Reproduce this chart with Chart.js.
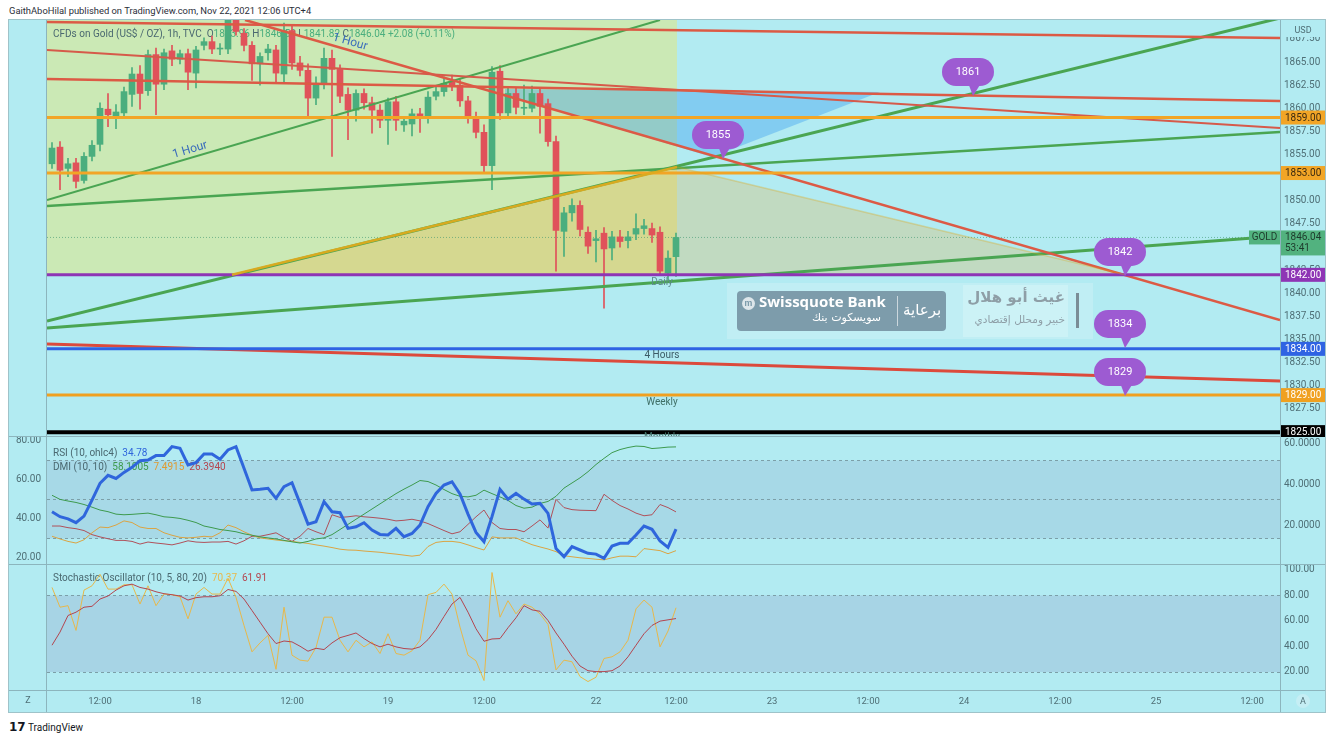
<!DOCTYPE html>
<html><head><meta charset="utf-8">
<script src="https://cdn.jsdelivr.net/npm/chart.js@4.4.1/dist/chart.umd.min.js"></script>
<style>
html,body{margin:0;padding:0;background:#fff;}
body{width:1332px;height:750px;position:relative;overflow:hidden;font-family:Roboto,sans-serif;}
#title{position:absolute;left:9px;top:5px;font-size:9.4px;color:#2a2e39;white-space:nowrap;}
canvas{position:absolute;left:9px;display:block}
#frame{position:absolute;left:8px;top:19px;width:1316px;height:692px;border:1px solid #9fc3c9;pointer-events:none}
#footer{position:absolute;left:9px;top:720px;font-size:10px;color:#131722;white-space:nowrap}
.sp{position:absolute;white-space:nowrap}
</style></head><body>
<div id="title">GaithAboHilal published on TradingView.com, Nov 22, 2021 12:06 UTC+4</div>
<canvas id="cMain" width="1316" height="417" style="top:20px"></canvas>
<canvas id="cRsi" width="1316" height="128" style="top:437px"></canvas>
<canvas id="cSto" width="1316" height="147" style="top:565px"></canvas>
<div id="frame"></div>
<div class="sp" style="left:727px;top:283px;width:366px;height:56px;background:rgba(255,255,255,0.18)"></div>
<div class="sp" style="left:737px;top:291px;width:209px;height:40px;background:#7d9cab;border-radius:4px"></div>
<div class="sp" style="left:742px;top:297px;width:13px;height:13px;border-radius:50%;background:#dde6ea;color:#7d9cab;font:bold 9px Roboto;text-align:center;line-height:13px">m</div>
<div class="sp" style="left:759px;top:291px;font:bold 15px 'Open Sans';color:#fff">Swissquote Bank</div>
<div class="sp" style="left:812px;top:311px;font:11px 'DejaVu Sans';color:#fff;direction:rtl">سويسكوت بنك</div>
<div class="sp" style="left:897px;top:296px;width:1px;height:30px;background:rgba(255,255,255,0.6)"></div>
<div class="sp" style="left:903px;top:301px;font:15px 'DejaVu Sans';color:#fff">برعاية</div>
<div class="sp" style="left:963px;top:285px;width:105px;height:52px;background:rgba(255,255,255,0.2)"></div>
<div class="sp" style="right:267px;top:288px;font:bold 15px 'DejaVu Sans';color:#8e9ea6;direction:rtl">غيث أبو هلال</div>
<div class="sp" style="right:267px;top:313px;font:10.5px 'DejaVu Sans';color:#8e9ea6;direction:rtl">خبير ومحلل إقتصادي</div>
<div class="sp" style="left:1076px;top:293px;width:3px;height:35px;background:#7a8d96"></div>
<div id="footer"><b style="font-size:12px;font-family:'DejaVu Sans'">17</b> TradingView</div>
<script>
// ---------------- DATA ----------------
const firstHour = -6; // first bar, in hours from Nov 17 12:00
const open  = [1854.0,1855.8,1853.5,1854.1,1852.2,1854.8,
  1856.1,1859.9,1859.2,1859.5,1861.5,1863.7,1861.9,1865.8,1862.6,1866.2,
  1865.3,1865.9,1863.8,1866.8,1867.2,1866.4,1866.4,1870.0,1868.1,1866.8,
  1864.8,1866.0,1866.3,1863.7,1868.4,1864.9,1864.1,1861.1,1862.7,1865.4,
  1864.2,1861.5,1859.8,1861.6,1860.6,1859.8,1858.7,1860.7,1858.2,1858.3,
  1859.4,1858.9,1861.3,1861.8,1862.9,1862.5,1860.8,1859.0,1857.4,1853.8,
  1864.0,1859.5,1861.6,1860.0,1860.0,1861.6,1860.5,1856.4,1846.7,1848.7,
  1849.5,1846.6,1845.7,1846.5,1844.9,1846.1,1845.7,1846.4,1847.0,1847.0,
  1846.6,1842.2,1843.96];
const high  = [1856.3,1856.4,1854.6,1854.6,1855.2,1856.5,
  1860.6,1861.6,1860.4,1862.3,1864.4,1864.6,1866.3,1866.5,1866.4,1866.8,
  1866.3,1866.4,1866.7,1867.6,1867.8,1867.0,1871.0,1871.0,1868.6,1867.2,
  1866.0,1866.9,1866.8,1869.2,1869.0,1865.6,1864.8,1863.4,1866.5,1866.3,
  1864.7,1862.2,1862.0,1862.1,1861.2,1860.4,1861.1,1861.3,1858.9,1859.9,
  1860.0,1861.8,1862.3,1863.4,1863.6,1863.1,1861.3,1859.6,1858.2,1864.5,
  1864.6,1862.3,1862.2,1862.5,1862.4,1862.1,1861.0,1857.0,1849.3,1850.2,
  1850.0,1847.2,1846.8,1847.1,1846.7,1846.8,1846.7,1848.6,1848.0,1847.6,
  1847.2,1844.6,1846.5];
const low   = [1853.5,1851.2,1852.6,1851.4,1851.9,1854.3,
  1855.4,1858.0,1857.8,1858.9,1860.2,1859.9,1861.4,1859.3,1862.0,1864.6,
  1864.8,1862.0,1862.2,1866.3,1865.9,1865.8,1865.9,1867.9,1866.2,1863.0,
  1862.5,1865.2,1862.8,1862.8,1864.2,1863.5,1859.0,1860.4,1862.1,1854.8,
  1860.6,1856.6,1858.6,1859.9,1857.3,1857.9,1856.1,1857.6,1857.5,1857.0,
  1857.4,1858.4,1860.9,1861.3,1861.9,1860.2,1858.4,1856.8,1853.0,1851.2,
  1858.8,1858.9,1859.4,1859.3,1859.6,1857.3,1855.9,1842.4,1844.0,1847.8,
  1846.2,1844.3,1843.4,1838.4,1843.6,1845.0,1844.9,1845.8,1846.4,1845.5,
  1842.0,1841.5,1841.82];
const close = [1855.7,1853.3,1854.0,1852.1,1854.8,1856.0,
  1860.0,1859.3,1859.6,1861.8,1863.7,1861.6,1865.8,1862.6,1866.0,1865.3,
  1865.9,1863.9,1866.3,1867.2,1866.4,1866.5,1870.2,1868.3,1866.8,1864.8,
  1865.6,1866.4,1863.8,1868.4,1864.9,1864.1,1861.1,1862.7,1865.4,1864.2,
  1861.3,1859.8,1861.6,1860.6,1859.8,1858.7,1860.7,1858.7,1858.6,1859.4,
  1858.9,1861.2,1861.8,1862.7,1862.4,1860.8,1859.0,1857.4,1853.8,1863.9,
  1859.5,1861.6,1860.1,1860.1,1861.6,1860.2,1856.4,1846.8,1848.7,1849.5,
  1846.9,1845.1,1845.9,1844.8,1846.1,1845.6,1846.1,1847.0,1847.3,1846.3,
  1842.4,1843.8,1846.04];
const rsi = [43.7,41.2,40.1,38.1,41.5,49.7,
  58.3,62.4,60.8,63.9,66.5,69.9,70.2,72.5,72.5,77.1,
  76.2,67.7,68.9,73.3,73.3,70.6,75.4,77.1,66.0,54.9,
  55.2,55.7,50.6,56.6,58.6,48.0,37.4,38.6,48.9,43.7,
  43.2,35.2,36.0,38.1,34.3,32.1,31.8,35.2,30.9,32.6,
  36.9,46.3,53.1,57.4,59.1,52.8,42.5,33.1,28.3,41.2,
  55.2,50.1,53.1,50.2,47.7,48.0,42.9,24.9,20.7,25.8,
  24.1,22.4,22.0,19.8,26.1,27.5,27.5,31.8,36.4,34.7,
  28.7,25.4,34.78];
const dmiAdx = [34.5,32.5,31.7,31.0,30.0,28.7,
  27.3,26.5,25.3,25.0,25.2,25.5,25.8,25.0,24.0,23.7,
  23.2,22.3,21.2,19.5,18.7,17.8,17.3,16.7,15.7,15.0,
  14.2,13.7,13.2,12.5,11.8,11.2,12.0,13.2,13.7,15.3,
  17.8,20.3,22.8,25.3,27.8,30.3,32.8,35.3,37.5,39.5,
  41.7,41.2,39.5,37.3,35.3,34.0,33.7,34.5,37.0,35.3,
  33.7,32.0,29.5,28.2,28.7,30.5,31.5,34.0,38.0,40.5,
  43.0,46.0,49.5,52.5,55.3,56.8,57.8,58.5,58.3,57.3,
  57.6,58.0,58.1005];
const dmiPlus = [14.5,13.2,12.0,11.2,12.8,16.2,
  19.0,18.7,20.0,22.0,21.2,19.0,18.3,18.3,16.2,15.0,
  14.0,13.7,14.0,14.5,14.2,16.2,20.0,18.7,16.7,15.0,
  13.7,13.2,12.7,12.3,12.0,11.5,11.0,10.3,9.7,9.0,
  8.2,7.8,7.7,7.3,7.0,6.7,6.2,5.8,5.3,4.8,
  5.3,9.5,11.5,12.0,12.0,11.5,10.3,9.0,7.8,14.2,
  13.7,13.7,13.7,12.0,10.4,9.3,8.3,7.0,5.0,4.5,
  4.0,3.7,3.3,3.0,4.0,4.8,4.8,4.5,8.5,8.0,
  7.5,6.0,7.4915];
const dmiMinus = [19.5,19.5,18.7,18.2,17.3,15.3,
  14.2,13.3,12.5,12.5,12.0,10.7,11.7,11.2,10.8,10.3,
  11.2,12.3,11.7,11.5,11.7,11.7,12.0,10.7,12.3,14.5,
  14.5,15.3,16.2,14.0,12.0,14.5,18.3,16.7,15.3,25.0,
  23.7,24.0,24.5,24.0,23.7,23.3,22.8,22.0,22.3,22.8,
  22.0,20.7,19.0,17.3,15.7,16.7,20.3,24.0,27.3,21.2,
  18.3,17.8,17.8,16.7,19.5,22.5,18.5,32.5,28.5,27.5,
  27.2,27.1,27.0,35.0,32.0,29.5,27.8,25.8,24.5,25.0,
  30.0,28.5,26.394];
const stochK = [86.3,70.8,72.0,52.6,84.2,87.6,
  96.6,85.0,85.0,88.4,88.4,73.3,87.6,72.0,81.1,80.6,
  79.0,61.7,81.1,86.3,81.1,81.1,93.5,78.5,56.5,35.8,
  42.8,48.7,22.1,70.8,33.2,29.3,28.5,39.2,63.0,63.0,
  44.9,35.8,44.9,39.7,43.6,34.5,50.0,34.5,33.2,36.6,
  44.9,80.6,82.4,88.9,81.1,55.2,33.2,28.8,13.3,98.0,
  63.0,75.9,65.6,73.3,70.8,65.6,57.3,21.6,29.3,28.0,
  16.4,12.5,15.9,30.6,31.9,35.8,44.9,69.5,76.4,70.8,
  39.7,52.1,70.37];
const stochD = [41.0,51.3,64.3,66.9,70.8,71.5,
  77.2,79.6,84.2,87.6,88.9,86.3,85.0,82.9,81.4,80.6,
  79.6,76.4,78.3,79.0,79.0,79.8,84.7,83.2,77.2,68.2,
  59.1,50.0,42.3,44.3,43.6,40.2,36.3,38.6,37.6,42.8,
  46.9,48.7,50.6,46.2,42.3,39.7,41.8,39.7,38.4,37.9,
  39.7,45.4,53.4,63.5,73.3,78.5,66.9,53.9,44.1,45.9,
  46.2,54.7,62.5,72.0,68.7,67.6,60.4,50.6,41.8,32.4,
  24.7,21.0,20.3,20.3,21.0,24.7,31.9,41.0,50.0,56.5,
  59.9,60.9,61.91];
const priceTicks = [1827.5,1830,1832.5,1835,1837.5,1840,1842.5,1845,1847.5,1850,1852.5,1855,1857.5,1860,1862.5,1865,1867.5];
const dmiTicks = [20,40,60];
const rsiTicks = [20,40,60,80];
const stochTicks = [20,40,60,80,100];
const timeTickHours = [0,12,24,36,48,62,72,84,96,108,120,132,144];
const timeTickLabels = ['12:00','18','12:00','19','12:00','22','12:00','23','12:00','24','12:00','25','12:00'];
const levelPrices = [1859, 1853, 1842, 1834, 1829, 1825];
// trend lines: [hour1, price1, hour2, price2]
const trendLines = [
  [-6.625,1869.32,147.5,1867.59],
  [-6.625,1863.16,147.5,1860.79],
  [-6.625,1866.30,147.5,1857.87],
  [18.125,1869.54,147.5,1837.12],
  [-6.625,1850.09,70,1869.54],
  [-6.625,1849.44,147.5,1857.43],
  [-6.625,1837.01,147.5,1869.75],
  [-6.625,1836.25,147.5,1846.20],
  [-6.625,1834.52,147.5,1830.53]
];
// ---------------- STYLE ----------------
const BG = '#b2ebf2', AX = '#4f6f76', TXT = '#4a6870';
const UP = '#4bae7e', DOWN = '#e0525a';
const levelStyle = [
  {c:'#f2a526', w:3, tagFg:'#3a2a10'}, {c:'#f2a526', w:3, tagFg:'#3a2a10'},
  {c:'#8e35b5', w:3, tagFg:'#fff'}, {c:'#2f63e3', w:3, tagFg:'#fff'},
  {c:'#f0a020', w:3, tagFg:'#fff'}, {c:'#000000', w:4, tagFg:'#fff'}];
const trendStyle = [
  {c:'#dc5a45', w:2.5}, {c:'#dc5a45', w:2.5}, {c:'#d65a4a', w:2}, {c:'#dc5a45', w:2.5},
  {c:'#4aa552', w:2}, {c:'#4aa552', w:2.5}, {c:'#4aa552', w:3}, {c:'#4aa552', w:3}, {c:'#dc4a3c', w:3}];
const X_MIN = -6.625, X_MAX = 147.5;
// annotations in data coordinates (hour, price)
const zone = {from:-6.625, to:72.125, low:1842};
const tanTriangle = [[16.5,1842],[72.125,1853.65],[128.125,1842]];
const blueZone = [[50.625,1862.08],[97.5,1861.76],[76.5,1854.73],[50.625,1861.43]];
const calloutNotes = [
  {h:108.5,p:1863.92,t:'1861'},{h:77.25,p:1857.11,t:'1855'},{h:127.5,p:1844.47,t:'1842'},
  {h:127.5,p:1836.69,t:'1834'},{h:127.5,p:1831.50,t:'1829'}];
const textNotes = [
  {h:11.25,p:1855.49,t:'1 Hour',rot:-16.5,c:'#3b6dbb',s:12},
  {h:31.25,p:1867.16,t:'1 Hour',rot:16,c:'#3b6dbb',s:12},
  {h:70.25,p:1841.12,t:'Daily',rot:0,c:'#5d8a8e',s:10},
  {h:70.25,p:1833.23,t:'4 Hours',rot:0,c:'#3c5a66',s:10},
  {h:70.25,p:1828.15,t:'Weekly',rot:0,c:'#3f6f66',s:10},
  {h:70.25,p:1824.42,t:'Monthly',rot:0,c:'#3f6f66',s:10}];

Chart.defaults.font.family = 'Roboto';
const hours = close.map((_, k) => k + firstHour);
const candleColor = close.map((c, k) => c >= open[k] ? UP : DOWN);
const lastClose = close[close.length - 1];

const bgPlugin = {id:'bgfill', beforeDraw(c){const x=c.ctx;x.save();x.fillStyle=BG;x.fillRect(0,0,c.width,c.height);x.restore();}};
function frameLines(c, bottomLine){
  const {ctx, chartArea:a} = c;
  ctx.save(); ctx.strokeStyle='#8cb5bd'; ctx.lineWidth=1;
  ctx.beginPath();
  ctx.moveTo(a.left-0.5,0); ctx.lineTo(a.left-0.5,c.height);
  ctx.moveTo(a.right+0.5,0); ctx.lineTo(a.right+0.5,c.height);
  if (bottomLine!==undefined){ctx.moveTo(0,bottomLine);ctx.lineTo(c.width,bottomLine);}
  ctx.stroke(); ctx.restore();
}
function segs(ctx,x,y,parts,font){ctx.font=font;ctx.textBaseline='middle';ctx.textAlign='left';for(const [t,col] of parts){ctx.fillStyle=col;ctx.fillText(t,x,y);x+=ctx.measureText(t).width;}}
function rrect(ctx,x,y,w,h,r){ctx.beginPath();ctx.moveTo(x+r,y);ctx.arcTo(x+w,y,x+w,y+h,r);ctx.arcTo(x+w,y+h,x,y+h,r);ctx.arcTo(x,y+h,x,y,r);ctx.arcTo(x,y,x+w,y,r);ctx.closePath();}
function yAxisCommon(ticksArr, fmt, pos, width){
  return {type:'linear', position:pos, beginAtZero:false,
    grid:{display:false, drawTicks:false}, border:{display:false},
    ticks:{padding: pos==='right'?4:6, color:AX, font:{size:10}, callback:v=>fmt(v)},
    afterBuildTicks:s=>{s.ticks=ticksArr.map(v=>({value:v}));},
    afterFit:s=>{s.width=width;s.paddingTop=0;s.paddingBottom=0;}};
}
const xHidden = {type:'linear', min:X_MIN, max:X_MAX, display:false, offset:false, grid:{display:false}};

// ---------------- MAIN PANE ----------------
const mainOverlay = {
  id:'mainOverlay',
  beforeDatasetsDraw(c){
    const {ctx, chartArea:a, scales:{x:X, y:Y}} = c;
    const px=v=>X.getPixelForValue(v), py=v=>Y.getPixelForValue(v);
    ctx.save(); ctx.beginPath(); ctx.rect(a.left,a.top,a.right-a.left,a.bottom-a.top); ctx.clip();
    ctx.fillStyle='#cbe9b5';
    ctx.fillRect(px(zone.from), a.top, px(zone.to)-px(zone.from), py(zone.low)-a.top);
    const poly=(pts,fill)=>{ctx.beginPath();pts.forEach(([h,p],k)=>k?ctx.lineTo(px(h),py(p)):ctx.moveTo(px(h),py(p)));ctx.closePath();ctx.fillStyle=fill;ctx.fill();};
    poly(tanTriangle,'rgba(255,150,0,0.2)');
    poly(blueZone,'rgba(30,140,240,0.32)');
    ctx.setLineDash([1,2]); ctx.strokeStyle='rgba(60,150,110,0.6)'; ctx.lineWidth=1;
    ctx.beginPath(); ctx.moveTo(a.left,py(lastClose)); ctx.lineTo(a.right,py(lastClose)); ctx.stroke(); ctx.setLineDash([]);
    segs(ctx, a.left+6, a.top+14, [['CFDs on Gold (US$ / OZ), 1h, TVC  ',TXT],['O',TXT],[open[open.length-1].toFixed(2)+' ',UP],['H',TXT],[high[high.length-1].toFixed(2)+' ',UP],['L',TXT],[low[low.length-1].toFixed(2)+' ',UP],['C',TXT],[lastClose.toFixed(2)+' +2.08 (+0.11%)',UP]],'10px Roboto');
    ctx.restore();
  },
  afterDatasetsDraw(c){
    const {ctx, chartArea:a, scales:{x:X, y:Y}} = c;
    const px=v=>X.getPixelForValue(v), py=v=>Y.getPixelForValue(v);
    ctx.save(); ctx.beginPath(); ctx.rect(a.left,a.top,a.right-a.left,a.bottom-a.top); ctx.clip();
    ctx.strokeStyle='rgba(222,170,30,0.95)'; ctx.lineWidth=2.5;
    ctx.beginPath(); ctx.moveTo(px(tanTriangle[0][0]),py(tanTriangle[0][1])); ctx.lineTo(px(tanTriangle[1][0]),py(tanTriangle[1][1])); ctx.stroke();
    ctx.strokeStyle='rgba(222,170,30,0.35)'; ctx.lineWidth=1.5;
    ctx.beginPath(); ctx.moveTo(px(tanTriangle[1][0]),py(tanTriangle[1][1])); ctx.lineTo(px(tanTriangle[2][0]),py(tanTriangle[2][1])); ctx.stroke();
    for (const n of textNotes){
      ctx.save(); ctx.translate(px(n.h),py(n.p)); ctx.rotate(n.rot*Math.PI/180);
      ctx.fillStyle=n.c; ctx.font=n.s+'px Roboto'; ctx.textAlign='center'; ctx.textBaseline='middle';
      ctx.fillText(n.t,0,0); ctx.restore();
    }
    for (const n of calloutNotes){
      const cx=px(n.h), cy=py(n.p), w=52, h=28;
      ctx.fillStyle='#9d5bd2';
      ctx.beginPath(); ctx.moveTo(cx-1,cy+8); ctx.lineTo(cx+15,cy+8); ctx.lineTo(cx+5,cy+24); ctx.closePath(); ctx.fill();
      rrect(ctx,cx-w/2,cy-h/2,w,h,14); ctx.fill();
      ctx.fillStyle='#fff'; ctx.font='11px Roboto'; ctx.textAlign='center'; ctx.textBaseline='middle';
      ctx.fillText(n.t,cx,cy+0.5);
    }
    ctx.restore();
  },
  afterDraw(c){
    const {ctx, chartArea:a, scales:{y:Y}} = c;
    const py=v=>Y.getPixelForValue(v);
    frameLines(c, c.height-0.5);
    ctx.save();
    ctx.font='10px Roboto'; ctx.textBaseline='middle'; ctx.textAlign='left';
    levelPrices.forEach((p,k)=>{
      const y=py(p); ctx.fillStyle=levelStyle[k].c; ctx.fillRect(a.right+1,y-7,44,14);
      ctx.fillStyle=levelStyle[k].tagFg; ctx.fillText(p.toFixed(2),a.right+5,y+0.5);
    });
    const yl=py(lastClose);
    ctx.fillStyle='#52b27f'; ctx.fillRect(a.right-31,yl-7,31,14); ctx.fillRect(a.right+1,yl-7,44,25);
    ctx.fillStyle='#1d3b2c'; ctx.textAlign='center'; ctx.fillText('GOLD',a.right-15.5,yl+0.5);
    ctx.textAlign='left'; ctx.fillText(lastClose.toFixed(2),a.right+5,yl+0.5); ctx.fillText('53:41',a.right+5,yl+11.5);
    ctx.fillStyle=BG; ctx.fillRect(a.right+2,3,42,14);
    ctx.fillStyle=AX; ctx.font='9px Roboto'; ctx.textAlign='center'; ctx.fillText('USD',a.right+23,11);
    ctx.restore();
  }
};
const mainDatasets = [];
levelPrices.forEach((p,k)=>mainDatasets.push({type:'line', data:[{x:X_MIN,y:p},{x:X_MAX,y:p}], borderColor:levelStyle[k].c, borderWidth:levelStyle[k].w, pointRadius:0, order:0}));
trendLines.forEach((t,k)=>mainDatasets.push({type:'line', data:[{x:t[0],y:t[1]},{x:t[2],y:t[3]}], borderColor:trendStyle[k].c, borderWidth:trendStyle[k].w, pointRadius:0, order:0}));
mainDatasets.push({type:'bar', data:hours.map((h,k)=>({x:h,y:[low[k],high[k]]})), backgroundColor:candleColor, barThickness:1, grouped:false, order:3});
mainDatasets.push({type:'bar', data:hours.map((h,k)=>({x:h,y:[open[k],close[k]]})), backgroundColor:candleColor, barThickness:6, minBarLength:1, grouped:false, order:2});

new Chart(document.getElementById('cMain'), {
  type:'bar', data:{datasets:mainDatasets},
  options:{responsive:false, animation:false, devicePixelRatio:1, events:[],
    layout:{padding:{left:38,top:0,right:0,bottom:0}},
    plugins:{legend:{display:false}, tooltip:{enabled:false}},
    scales:{x:xHidden, y:Object.assign(yAxisCommon(priceTicks,v=>v.toFixed(2),'right',45),{min:1824.474,max:1869.539})}},
  plugins:[bgPlugin, mainOverlay]
});

// ---------------- RSI / DMI PANE ----------------
const rsiOverlay = {
  id:'rsiOverlay',
  beforeDatasetsDraw(c){
    const {ctx, chartArea:a, scales:{yR}} = c;
    ctx.save();
    ctx.fillStyle='#a7d9e7'; ctx.fillRect(a.left,yR.getPixelForValue(70),a.right-a.left,yR.getPixelForValue(30)-yR.getPixelForValue(70));
    ctx.strokeStyle='#7c9fa8'; ctx.setLineDash([3,3]); ctx.lineWidth=1;
    for (const v of [70,50,30]){const y=Math.round(yR.getPixelForValue(v))+0.5;ctx.beginPath();ctx.moveTo(a.left,y);ctx.lineTo(a.right,y);ctx.stroke();}
    ctx.setLineDash([]);
    segs(ctx,a.left+6,a.top+16,[['RSI (10, ohlc4)  ',TXT],[rsi[rsi.length-1].toFixed(2),'#2f66dc']],'10px Roboto');
    segs(ctx,a.left+6,a.top+30,[['DMI (10, 10)  ',TXT],[dmiAdx[dmiAdx.length-1].toFixed(4)+'  ','#3d9a4e'],[dmiPlus[dmiPlus.length-1].toFixed(4)+'  ','#e09a30'],[dmiMinus[dmiMinus.length-1].toFixed(4),'#b4454f']],'10px Roboto');
    ctx.restore();
  },
  afterDraw(c){ frameLines(c, c.height-0.5); }
};
const ln=(arr,col,w,ax)=>({type:'line', data:hours.map((h,k)=>({x:h,y:arr[k]})), borderColor:col, borderWidth:w, pointRadius:0, tension:0, yAxisID:ax});
new Chart(document.getElementById('cRsi'), {
  type:'line',
  data:{datasets:[ln(rsi,'#2f66dc',3,'yR'), ln(dmiAdx,'#3d9a4e',1,'yD'), ln(dmiPlus,'#dba443',1,'yD'), ln(dmiMinus,'#b0505a',1,'yD')]},
  options:{responsive:false, animation:false, devicePixelRatio:1, events:[],
    layout:{padding:0},
    plugins:{legend:{display:false}, tooltip:{enabled:false}},
    scales:{x:xHidden,
      yR:Object.assign(yAxisCommon(rsiTicks,v=>v.toFixed(2),'left',38),{min:16.41,max:82.05}),
      yD:Object.assign(yAxisCommon(dmiTicks,v=>v.toFixed(4),'right',45),{min:0.49,max:62.93})}},
  plugins:[bgPlugin, rsiOverlay]
});

// ---------------- STOCHASTIC PANE ----------------
const stoOverlay = {
  id:'stoOverlay',
  beforeDatasetsDraw(c){
    const {ctx, chartArea:a, scales:{y:Y}} = c;
    ctx.save();
    ctx.fillStyle='#a7d4e5'; ctx.fillRect(a.left,Y.getPixelForValue(80),a.right-a.left,Y.getPixelForValue(20)-Y.getPixelForValue(80));
    ctx.strokeStyle='#7c9fa8'; ctx.setLineDash([3,3]); ctx.lineWidth=1;
    for (const v of [80,20]){const y=Math.round(Y.getPixelForValue(v))+0.5;ctx.beginPath();ctx.moveTo(a.left,y);ctx.lineTo(a.right,y);ctx.stroke();}
    ctx.setLineDash([]);
    segs(ctx,a.left+6,a.top+13,[['Stochastic Oscillator (10, 5, 80, 20)  ',TXT],[stochK[stochK.length-1].toFixed(2)+'  ','#e8b84a'],[stochD[stochD.length-1].toFixed(2),'#b4454f']],'10px Roboto');
    ctx.restore();
  },
  afterDraw(c){
    const {ctx, chartArea:a} = c;
    frameLines(c, a.bottom+0.5);
    ctx.save(); ctx.fillStyle=AX; ctx.font='9px Roboto'; ctx.textAlign='center'; ctx.textBaseline='middle';
    const ym=(a.bottom+c.height)/2;
    ctx.fillText('Z',a.left/2,ym);
    ctx.beginPath(); ctx.arc(a.right+23,ym,7,0,Math.PI*2); ctx.fillStyle='#c5eef4'; ctx.fill();
    ctx.fillStyle=AX; ctx.fillText('A',a.right+23,ym+0.5);
    ctx.restore();
  }
};
new Chart(document.getElementById('cSto'), {
  type:'line',
  data:{datasets:[
    {type:'line', data:hours.map((h,k)=>({x:h,y:stochD[k]})), borderColor:'#b4454f', borderWidth:1, pointRadius:0, tension:0},
    {type:'line', data:hours.map((h,k)=>({x:h,y:stochK[k]})), borderColor:'#e8b84a', borderWidth:1, pointRadius:0, tension:0}]},
  options:{responsive:false, animation:false, devicePixelRatio:1, events:[],
    layout:{padding:{left:38,top:0,right:0,bottom:0}},
    plugins:{legend:{display:false}, tooltip:{enabled:false}},
    scales:{
      x:{type:'linear', min:X_MIN, max:X_MAX, offset:false, position:'bottom',
        grid:{display:false, drawTicks:false}, border:{display:false},
        ticks:{padding:6, color:AX, font:{size:9.5}, maxRotation:0, autoSkip:false, callback:(v,k)=>timeTickLabels[k]},
        afterBuildTicks:s=>{s.ticks=timeTickHours.map(v=>({value:v}));},
        afterFit:s=>{s.height=22;s.paddingLeft=0;s.paddingRight=0;}},
      y:Object.assign(yAxisCommon(stochTicks,v=>v.toFixed(2),'right',45),{min:5.88,max:103.9})}},
  plugins:[bgPlugin, stoOverlay]
});
</script>
</body></html>
